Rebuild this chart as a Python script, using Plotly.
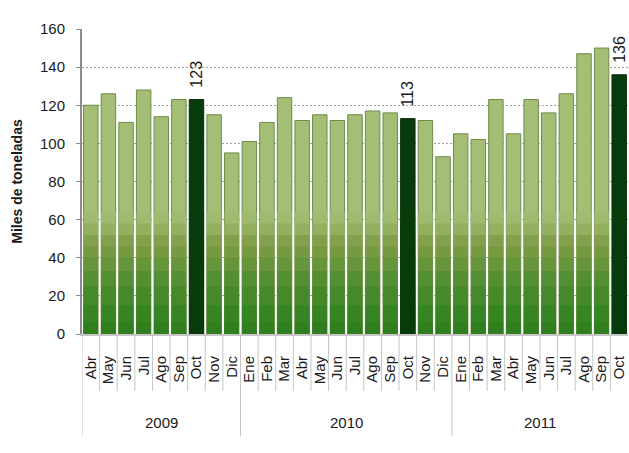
import plotly.graph_objects as go

months = ["Abr", "May", "Jun", "Jul", "Ago", "Sep", "Oct", "Nov", "Dic",
          "Ene", "Feb", "Mar", "Abr", "May", "Jun", "Jul", "Ago", "Sep", "Oct", "Nov", "Dic",
          "Ene", "Feb", "Mar", "Abr", "May", "Jun", "Jul", "Ago", "Sep", "Oct"]
years = ["2009", "2010", "2011"]
year_counts = [9, 12, 10]
values = [120, 126, 111, 128, 114, 123, 123, 115, 95,
          101, 111, 124, 112, 115, 112, 115, 117, 116, 113, 112, 93,
          105, 102, 123, 105, 123, 116, 126, 147, 150, 136]
highlight = ["Oct"]

x = list(range(len(values)))
is_hl = [m in highlight for m in months]
dark = "#083b0b"
FONT = "Arial, Liberation Sans, sans-serif"

fig = go.Figure()

# gradient-like layering (light top, olive middle, green bottom)
layers = [
    (None, "#a4bf75"),
    (64, "#a0bb70"),
    (58, "#93af5f"),
    (52, "#83a04c"),
    (46, "#769a42"),
    (40, "#66953b"),
    (33, "#548f33"),
    (25, "#45892b"),
    (15, "#378424"),
    (6, "#2f7f1f"),
]
for i, (cap, col) in enumerate(layers):
    ys = values if cap is None else [min(v, cap) for v in values]
    colors = [dark if h else col for h in is_hl]
    text = (["\u00a0\u00a0" + str(v) if h else "" for v, h in zip(values, is_hl)]
            if i == 0 else None)
    fig.add_trace(go.Bar(
        x=x, y=ys,
        marker=dict(color=colors,
                    line=dict(color=["#0a2f0a" if h else "#6f8a4a" for h in is_hl],
                              width=1 if i == 0 else 0)),
        text=text,
        textposition="outside" if i == 0 else None,
        textangle=-90,
        constraintext="none",
        textfont=dict(family=FONT, size=16, color="#1a1a1a"),
        cliponaxis=False,
        hoverinfo="skip" if i else None,
        showlegend=False,
    ))

shapes = []
n = len(values)
boundaries = []
pos = -0.5
for c in year_counts:
    boundaries.append(pos)
    pos += c
boundaries.append(pos)
for b in [i - 0.5 for i in range(n)]:
    is_year = any(abs(b - yb) < 1e-9 for yb in boundaries)
    shapes.append(dict(type="line", xref="x", yref="paper", x0=b, x1=b,
                       y0=0, y1=-0.335 if is_year else -0.187,
                       line=dict(color="#c6c6c6", width=1)))

annotations = []
start = 0
for yr, c in zip(years, year_counts):
    annotations.append(dict(x=start + (c - 1) / 2, y=-0.289, xref="x", yref="paper",
                            yanchor="middle", xanchor="center",
                            text=yr, showarrow=False,
                            font=dict(family=FONT, size=15, color="#1a1a1a")))
    start += c

fig.update_layout(
    width=629, height=453,
    margin=dict(l=82, r=1, t=29, b=119),
    barmode="overlay",
    bargap=0.18,
    plot_bgcolor="white", paper_bgcolor="white",
    font=dict(family=FONT, size=15, color="#1a1a1a"),
    shapes=shapes,
    annotations=annotations,
    xaxis=dict(
        tickmode="array", tickvals=x, ticktext=months, tickangle=-90,
        range=[-0.5, n - 0.5],
        ticks="outside", ticklen=14, tickcolor="rgba(0,0,0,0)",
        showline=True, linecolor="#c6c6c6", linewidth=2,
        showgrid=False, zeroline=False, automargin=False,
        tickfont=dict(size=15),
    ),
    yaxis=dict(
        range=[0, 160], dtick=20,
        showgrid=True, gridcolor="#a0a0a0", griddash="2px,2px", gridwidth=1,
        showline=True, linecolor="#8c8c8c", linewidth=2,
        ticks="outside", ticklen=4, tickcolor="#8c8c8c",
        ticklabelstandoff=8,
        zeroline=False, automargin=False,
        tickfont=dict(size=15),
        title=dict(text="<b>Miles de toneladas</b>", font=dict(size=14), standoff=14),
    ),
)

fig.write_html(
    "out.html",
    config={"displayModeBar": False},
    post_script="document.body.style.margin='0';document.body.style.overflow='hidden';",
)
